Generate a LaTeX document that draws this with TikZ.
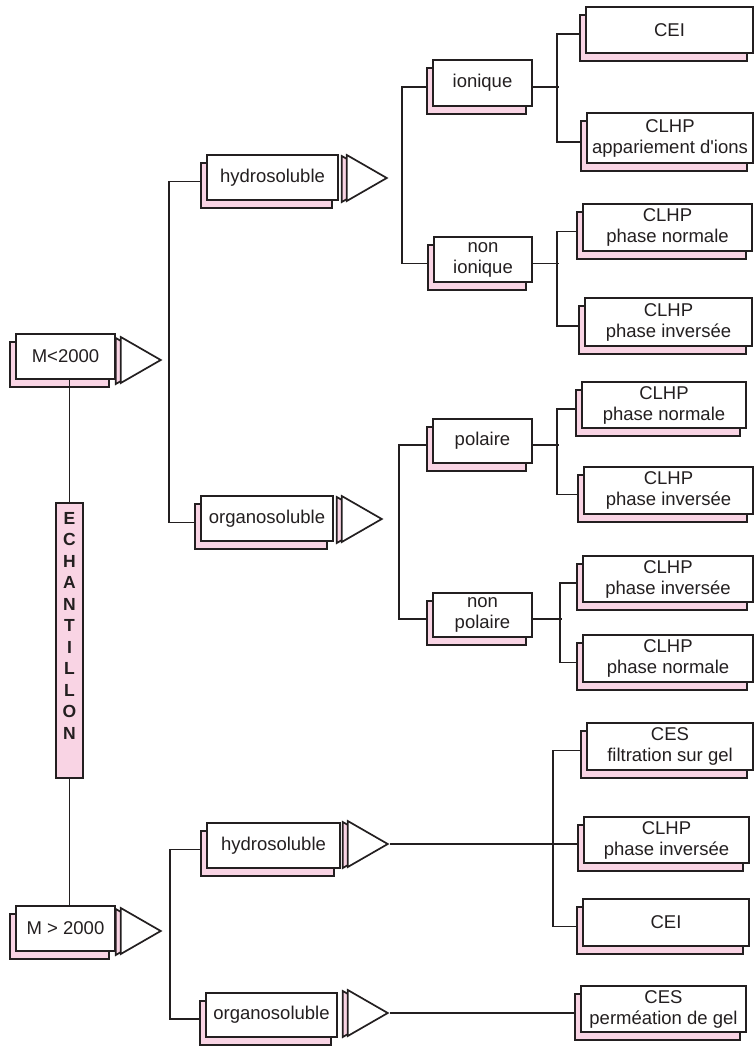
\documentclass[tikz,border=0pt]{standalone}
\usepackage{fontspec}
\setmainfont{Liberation Sans}[Ligatures=TeXOff]
\usetikzlibrary{shapes.geometric,shadows}
\definecolor{rose}{RGB}{249,212,228}
\definecolor{encre}{RGB}{35,31,32}
\tikzset{
	cadre/.style={draw=encre, line width=1.7pt, fill=white, inner sep=1pt, align=center,
		text=encre, font=\fontsize{18.5}{21}\selectfont,
		copy shadow={shadow xshift=-6pt, shadow yshift=-8pt, fill=rose, draw=encre, line width=1.7pt}},
	fleche/.style={isosceles triangle, isosceles triangle stretches, anchor=apex,
		minimum width=46pt, minimum height=40pt, inner sep=0pt,
		draw=encre, line width=1.7pt, fill=white,
		copy shadow={shadow xshift=-5pt, shadow yshift=-1pt, fill=rose, draw=encre, line width=1.7pt}},
	gauche/.style={shift={(-6pt,-4pt)}},
	droite/.style={yshift=-4pt},
	trait/.style={draw=encre, line width=1.8pt}
}
\begin{document}
\begin{tikzpicture}[x=1pt,y=-1pt]
		\useasboundingbox (0,0) rectangle (753,1047);

		% echantillon
		\node[draw=encre, fill=rose, line width=1.7pt, minimum width=27pt, minimum height=275pt,
			anchor=north, inner sep=0pt] (ech) at (69.5,502) {};
		\node[anchor=north, inner sep=0pt, align=center, text=encre,
			font=\bfseries\fontsize{17.5}{21.5}\selectfont] (echtxt) at (69.5,512)
			{E\\C\\H\\A\\N\\T\\I\\L\\L\\O\\N};

		\begin{scope}[every node/.style={cadre}]
			\node[minimum width=99pt, minimum height=45pt] (m1) at (65.5,356.5) {M<2000};
			\node[minimum width=99pt, minimum height=45pt] (m2) at (65.5,928.5) {M > 2000};

			\node[minimum width=131pt, minimum height=45pt] (h1) at (272.5,177.5) {hydrosoluble};
			\node[minimum width=132pt, minimum height=45pt] (o1) at (267,518.5) {organosoluble};
			\node[minimum width=133pt, minimum height=45pt] (h2) at (273.5,845.5) {hydrosoluble};
			\node[minimum width=131pt, minimum height=44pt] (o2) at (271.5,1015) {organosoluble};

			\node[minimum width=99pt, minimum height=46pt] (io) at (482.5,83) {ionique};
			\node[minimum width=98pt, minimum height=45pt] (ni) at (483,259.5) {non\\ionique};
			\node[minimum width=99pt, minimum height=44pt] (pol) at (482.5,441) {polaire};
			\node[minimum width=99pt, minimum height=44pt] (npol) at (482.5,615) {non\\polaire};

			\node[minimum width=167pt, minimum height=46pt] (cei1) at (669.5,30) {CEI};
			\node[minimum width=166pt, minimum height=50pt] (app) at (670,138) {CLHP\\appariement d'ions};
			\node[minimum width=169pt, minimum height=47pt] (pn1) at (667.5,227.5) {CLHP\\phase normale};
			\node[minimum width=167pt, minimum height=48pt] (pi1) at (668.5,322) {CLHP\\phase inversée};
			\node[minimum width=164pt, minimum height=46pt] (pn2) at (664,405) {CLHP\\phase normale};
			\node[minimum width=169pt, minimum height=47pt] (pi2) at (668.5,490.5) {CLHP\\phase inversée};
			\node[minimum width=170pt, minimum height=46pt] (pi3) at (668,579) {CLHP\\phase inversée};
			\node[minimum width=170pt, minimum height=47pt] (pn3) at (668,658.5) {CLHP\\phase normale};
			\node[minimum width=166pt, minimum height=47pt] (ces1) at (670,746.5) {CES\\filtration sur gel};
			\node[minimum width=165pt, minimum height=46pt] (pi4) at (666.5,840) {CLHP\\phase inversée};
			\node[minimum width=166pt, minimum height=47pt] (cei2) at (666,922.5) {CEI};
			\node[minimum width=165pt, minimum height=46pt] (ces2) at (663.5,1009) {CES\\perméation de gel};
		\end{scope}

		\begin{scope}[every node/.style={fleche}]
			\node (tm1) at (163,360) {};
			\node (tm2) at (163,931) {};
			\node (th1) at (389,178) {};
			\node (to1) at (384,519) {};
			\node (th2) at (390,844) {};
			\node (to2) at (390,1013) {};
		\end{scope}

		\begin{scope}[every path/.style={trait}]
			\draw (ech.north) -- (ech.north |- m1.south);
			\draw (ech.south) -- (ech.south |- m2.north);

			\draw ([gauche]h1.west) -- ++(-31,0) |- ([gauche]o1.west);
			\draw ([gauche]h2.west) -- ++(-30,0) |- ([gauche]o2.west);

			\draw ([gauche]io.west) -- ++(-24,0) |- ([gauche]ni.west);
			\draw ([gauche]pol.west) -- ++(-27,0) |- ([gauche]npol.west);

			\draw ([droite]io.east) -- ++(26,0);
			\draw ([gauche]cei1.west) -- ++(-22,0) |- ([gauche]app.west);
			\draw ([droite]ni.east) -- ++(26,0);
			\draw ([gauche]pn1.west) -- ++(-19,0) |- ([gauche]pi1.west);
			\draw ([droite]pol.east) -- ++(26,0);
			\draw ([gauche]pn2.west) -- ++(-18,0) |- ([gauche]pi2.west);
			\draw ([droite]npol.east) -- ++(29,0);
			\draw ([gauche]pi3.west) -- ++(-16,0) |- ([gauche]pn3.west);

			\draw (th2.apex) -- ([gauche]pi4.west);
			\draw ([gauche]ces1.west) -- ++(-27,0) |- ([gauche]cei2.west);
			\draw (to2.apex) -- ([gauche]ces2.west);
		\end{scope}
\end{tikzpicture}
\end{document}
